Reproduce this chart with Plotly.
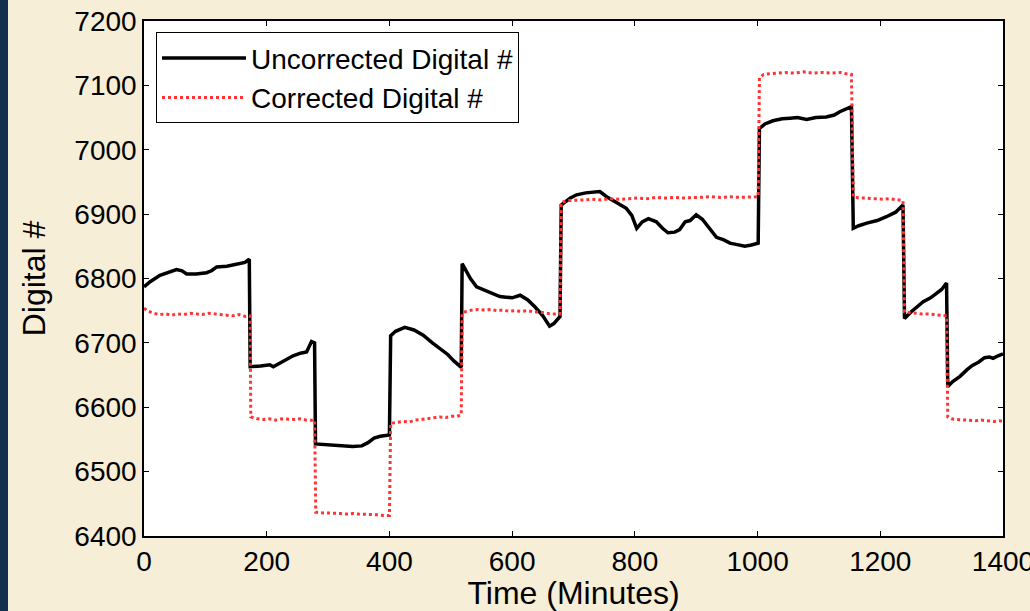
import plotly.graph_objects as go

# ---- data ----
uncorr_x = [0, 10, 26, 40, 53, 62, 69.5, 85, 102, 110, 118.5, 135, 151, 164.6, 171.6,
            173, 190, 205, 210.7, 225, 243, 255, 265, 273, 278,
            279.5, 300, 320, 340, 355, 365, 375, 385, 400,
            402, 410, 425, 440, 455, 470, 485, 495, 505, 510, 517,
            518.5, 525, 532, 542, 552, 561, 570, 580, 590, 600, 613, 625, 637, 650, 661, 668, 678,
            680, 685, 695, 705, 720, 743, 754, 770, 786, 795, 803, 812, 822, 835, 845, 854, 865, 873,
            882, 890, 900, 910, 922, 933, 945, 955, 965, 979, 990, 1001,
            1003, 1012, 1025, 1040, 1053, 1065, 1080, 1095, 1112, 1125, 1134, 1145, 1153,
            1156, 1165, 1178, 1195, 1210, 1225, 1237,
            1239.5, 1250, 1260, 1270, 1282, 1292, 1300, 1308,
            1310, 1318, 1330, 1341, 1350, 1360, 1370, 1378, 1384, 1392, 1400]
uncorr_y = [6787, 6795, 6805, 6810, 6814, 6812, 6807, 6807, 6809, 6812, 6818, 6819, 6822, 6825, 6830,
            6663, 6664, 6666, 6663, 6670, 6680, 6684, 6686, 6702, 6700,
            6543, 6542, 6541, 6539, 6540, 6545, 6552, 6555, 6557,
            6711, 6718, 6724, 6720, 6712, 6700, 6690, 6682, 6672, 6668, 6662,
            6823, 6812, 6800, 6787, 6783, 6780, 6777, 6772, 6771, 6770, 6774, 6767, 6756, 6742, 6726, 6730, 6741,
            6914, 6918, 6925, 6930, 6933, 6935, 6927, 6918, 6909, 6898, 6878, 6888, 6893, 6888, 6878, 6871, 6872, 6876,
            6888, 6890, 6899, 6892, 6878, 6864, 6860, 6855, 6853, 6850, 6852, 6855,
            7033, 7040, 7045, 7048, 7049, 7050, 7047, 7050, 7051, 7054, 7059, 7063, 7067,
            6878, 6882, 6886, 6890, 6896, 6903, 6914,
            6738, 6748, 6756, 6764, 6770, 6777, 6783, 6793,
            6632, 6640, 6648, 6658, 6665, 6670, 6677, 6678, 6676, 6680, 6683]

corr_x = [0, 5, 15, 25, 35, 45, 55, 65, 75, 85, 95, 105, 115, 125, 135, 145, 155, 165, 173,
          174, 185, 195, 205, 215, 225, 235, 245, 255, 265, 278,
          280, 290, 300, 310, 320, 330, 340, 350, 360, 370, 380, 390, 400,
          402, 412, 422, 432, 442, 452, 462, 472, 482, 492, 502, 510, 517,
          518.5, 525, 535, 545, 555, 565, 575, 585, 595, 605, 615, 625, 635, 645, 655, 665, 678,
          680, 690, 700, 715, 730, 745, 760, 775, 790, 805, 820, 835, 850, 865, 880, 895, 910, 925,
          940, 955, 970, 985, 1001,
          1003, 1010, 1020, 1030, 1045, 1060, 1075, 1090, 1105, 1120, 1135, 1145, 1153,
          1156, 1165, 1175, 1185, 1195, 1205, 1215, 1225, 1237,
          1239.5, 1248, 1258, 1268, 1278, 1288, 1298, 1308,
          1310, 1316, 1325, 1335, 1345, 1355, 1365, 1375, 1385, 1395, 1400]
corr_y = [6754, 6750, 6746, 6744, 6745, 6743, 6745, 6744, 6746, 6745, 6744, 6746, 6745, 6744, 6743, 6742, 6744, 6741, 6742,
          6585, 6582, 6581, 6582, 6580, 6582, 6581, 6581, 6582, 6580, 6580,
          6437, 6436, 6436, 6435, 6435, 6434, 6435, 6434, 6434, 6433, 6433, 6432, 6432,
          6575, 6576, 6578, 6577, 6580, 6581, 6582, 6583, 6585, 6584, 6586, 6586, 6588,
          6746, 6749, 6751, 6752, 6751, 6752, 6750, 6751, 6749, 6750, 6749, 6750, 6748, 6748, 6746, 6745, 6745,
          6918, 6921, 6921, 6922, 6923, 6922, 6924, 6923, 6924, 6925, 6924, 6926, 6925, 6926, 6925, 6926, 6926, 6927,
          6926, 6927, 6926, 6927, 6927,
          7112, 7117, 7118, 7119, 7120, 7119, 7121, 7119, 7120, 7119, 7120, 7118, 7117,
          6927, 6925, 6925, 6924, 6924, 6923, 6924, 6923, 6921,
          6748, 6747, 6746, 6745, 6745, 6744, 6743, 6742,
          6585, 6582, 6581, 6580, 6580, 6579, 6580, 6579, 6578, 6579, 6578]

x_ticks = [0, 200, 400, 600, 800, 1000, 1200, 1400]
y_ticks = [6400, 6500, 6600, 6700, 6800, 6900, 7000, 7100, 7200]

FONT = "Liberation Sans, Arial, Helvetica, sans-serif"

fig = go.Figure()
fig.add_trace(go.Scatter(x=uncorr_x, y=uncorr_y, mode="lines", name="Uncorrected Digital #",
                         line=dict(color="black", width=3.5)))
fig.add_trace(go.Scatter(x=corr_x, y=corr_y, mode="lines", name="Corrected Digital #",
                         line=dict(color="#ff3333", width=3, dash="dot")))

axis_common = dict(showgrid=False, zeroline=False, showline=True, linecolor="black", linewidth=1.5,
                   mirror="ticks", ticks="inside", ticklen=5, tickwidth=1, tickcolor="black",
                   automargin=False,
                   tickfont=dict(family=FONT, size=28, color="black"))

fig.update_xaxes(range=[0, 1400], tickvals=x_ticks, ticktext=[str(v) for v in x_ticks],
                 ticklabeloverflow="allow",
                 title=dict(text="Time (Minutes)", font=dict(family=FONT, size=32, color="black"), standoff=5),
                 **axis_common)
fig.update_yaxes(range=[6400, 7200], tickvals=y_ticks, ticktext=[str(v) for v in y_ticks],
                 title=dict(text="Digital #", font=dict(family=FONT, size=32, color="black"), standoff=19),
                 **axis_common)

fig.add_shape(type="rect", xref="paper", yref="paper", x0=-144/859, x1=-136/859, y0=-0.2, y1=1.1,
              fillcolor="#14304f", line=dict(width=0), layer="below")

fig.update_layout(
    width=1030, height=611,
    margin=dict(l=144, r=27, t=21, b=75),
    paper_bgcolor="#f6eed6", plot_bgcolor="white",
    font=dict(family=FONT, color="black"),
    showlegend=True,
    legend=dict(x=0.014, y=0.978, xanchor="left", yanchor="top",
                bgcolor="white", bordercolor="black", borderwidth=1,
                font=dict(family=FONT, size=28, color="black"),
                itemwidth=84, tracegroupgap=0),
)

fig.write_html("out.html")
